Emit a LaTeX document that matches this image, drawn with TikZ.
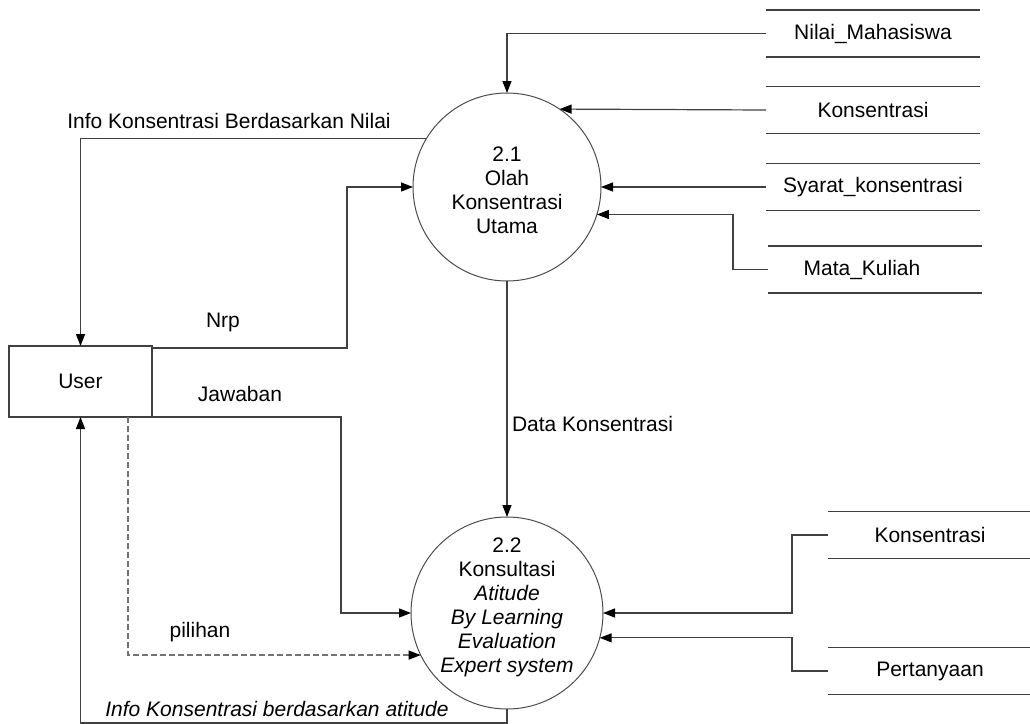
\documentclass[tikz,border=0pt]{standalone}
\usepackage{fontspec}
\setmainfont{Liberation Sans}
\usetikzlibrary{arrows.meta}
\begin{document}
\begin{tikzpicture}[x=0.5pt,y=-0.5pt,
  every node/.style={font=\fontsize{10.5}{12}\selectfont, inner sep=0pt, outer sep=0pt},
  process/.style={circle, draw=black!70, line width=0.5pt, minimum size=#1},
  store/.style={minimum width=#1, minimum height=23.5pt},
  storeline/.style={draw=black!75, line width=0.6pt},
  flow/.style={draw=black!75, line width=0.6pt,
    -{Triangle[length=6pt,width=4.5pt,color=black]}},
  entity/.style={draw=black!75, line width=0.6pt,
    minimum width=71.5pt, minimum height=35.5pt}]
\useasboundingbox (0,0) rectangle (1030,724);

% processes
\node[process=94pt] (p1) at (507,187) {};
\node[align=center] (p1text) at ([yshift=-1.5pt]p1.center)
  {2.1\\Olah\\Konsentrasi\\Utama};
\node[process=96pt] (p2) at (507,613) {};
\node[align=center] (p2text) at ([yshift=2.7pt]p2.center)
  {2.2\\Konsultasi\\\textit{Atitude}\\\textit{By Learning}\\\textit{Evaluation}\\\textit{Expert system}};

% external entity
\node[entity] (user) at (80.5,381.5) {User};

% data stores
\node[store=107pt] (s1) at (873,33.5) {Nilai\_Mahasiswa};
\node[store=107pt] (s2) at (873,110) {Konsentrasi};
\node[store=107pt] (s3) at (873,187) {Syarat\_konsentrasi};
\node[store=107pt] (s4) at (862,269.5) {Mata\_Kuliah};
\node[store=102pt] (s5) at (930,535) {Konsentrasi};
\node[store=102pt] (s6) at (930,671) {Pertanyaan};
\foreach \s in {s1,s2,s3,s5,s6}
  \draw[storeline] (\s.north west) -- (\s.north east)
                   (\s.south west) -- (\s.south east);
\draw[storeline] ([xshift=6.5pt]s4.north west) -- ([xshift=6.5pt]s4.north east)
                 ([xshift=6.5pt]s4.south west) -- ([xshift=6.5pt]s4.south east);

% flows into 2.1
\draw[flow] (s1.west) -| (p1.north);
\draw[flow] (s2.west) -- (p1.56);
\draw[flow] (s3.west) -- (p1.east);
\draw[flow] ([xshift=6.5pt]s4.west) -- ++(-35,0) |- (p1.-17.3);
\draw[flow] ([yshift=-1pt]user.north east) -- ++(195,0) |- (p1.west);

% flows out of 2.1
\draw[flow] (p1.149.3) -| (user.north);
\draw[flow] (p1.south) -- (p2.north);

% flows into 2.2
\draw[flow] (s5.west) -- ++(-36,0) |- (p2.east);
\draw[flow] (s6.west) -- ++(-36,0) |- (p2.-15.9);
\draw[flow] (user.south east) -- ++(189,0) |- (p2.west);
\draw[flow, draw=black!55, dash pattern=on 3pt off 1.5pt] ([xshift=-12pt]user.south east) |- (p2.206.9);

% flow out of 2.2
\draw[flow] (p2.south) -- ++(0,14) -| (user.south);

% flow labels
\node (lnilai) at (229,121) {Info Konsentrasi Berdasarkan Nilai};
\node (lnrp) at (223,322) {Nrp};
\node (ljaw) at (240,394) {Jawaban};
\node (lpil) at (200,632) {pilihan};
\node (latt) at (277,709) {\itshape Info Konsentrasi berdasarkan atitude};
\node[anchor=west] (ldata) at (512,424) {Data Konsentrasi};
\end{tikzpicture}
\end{document}
